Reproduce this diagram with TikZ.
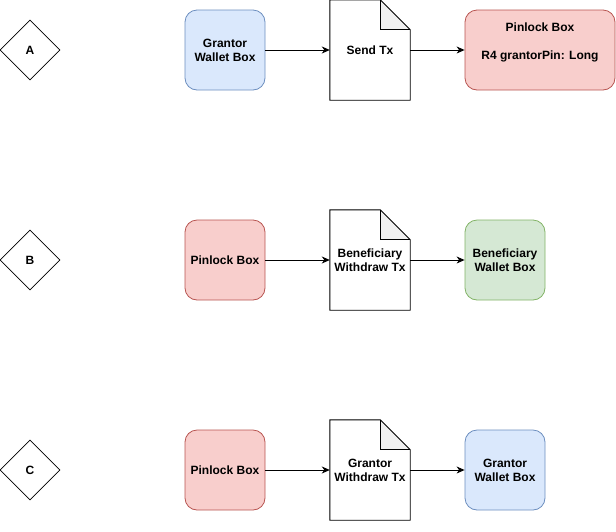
\documentclass[tikz,border=0pt]{standalone}
\usepackage{fontspec}
\setmainfont{Liberation Sans}
\usetikzlibrary{arrows.meta,shapes.geometric}
\definecolor{blueFill}{HTML}{DAE8FC}
\definecolor{blueLine}{HTML}{6C8EBF}
\definecolor{redFill}{HTML}{F8CECC}
\definecolor{redLine}{HTML}{B85450}
\definecolor{greenFill}{HTML}{D5E8D4}
\definecolor{greenLine}{HTML}{82B366}
\definecolor{foldFill}{HTML}{F0F0F0}
\tikzset{
  txt/.style={font=\bfseries\fontsize{12}{14}\selectfont, align=center, text=black},
  walletbox/.style={txt, rounded corners=12pt, minimum width=80pt, minimum height=80pt, inner sep=0pt, line width=0.8pt},
  bluebox/.style={walletbox, fill=blueFill, draw=blueLine},
  redbox/.style={walletbox, fill=redFill, draw=redLine},
  greenbox/.style={walletbox, fill=greenFill, draw=greenLine},
  decision/.style={txt, diamond, draw=black, line width=0.8pt, minimum width=60pt, minimum height=60pt, inner sep=0pt, aspect=1},
  docframe/.style={txt, minimum width=80pt, minimum height=100pt, inner sep=0pt},
  docline/.style={draw=black, line width=0.9pt, line join=miter},
  flow/.style={draw=black, line width=1pt, -{Stealth[length=8pt,width=7pt,inset=2.5pt]}},
}
% transaction document: sheet with a folded top-right corner
\newcommand{\txsheet}[1]{%
  \fill[white] (#1.south west) -- (#1.north west) -- ([xshift=-30pt]#1.north east)
    -- ([yshift=-30pt]#1.north east) -- (#1.south east) -- cycle;
  \fill[foldFill] ([xshift=-30pt]#1.north east) -- ([xshift=-30pt,yshift=-30pt]#1.north east)
    -- ([yshift=-30pt]#1.north east) -- cycle;
  \draw[docline] (#1.south west) -- (#1.north west) -- ([xshift=-30pt]#1.north east)
    -- ([yshift=-30pt]#1.north east) -- (#1.south east) -- cycle;
  \draw[docline] ([xshift=-30pt]#1.north east) -- ([xshift=-30pt,yshift=-30pt]#1.north east)
    -- ([yshift=-30pt]#1.north east);
}
\begin{document}
\begin{tikzpicture}[x=1pt,y=-1pt]
\useasboundingbox (0,0) rectangle (616,531);

% row A: grantor deposits into the pinlock
\node[decision] (dA) at (30,50) {A};
\node[bluebox] (gwA) at (225,50) {Grantor\\Wallet Box};
\node[docframe] (txA) at (370,50) {};
\txsheet{txA}
\node[txt] (txAlbl) at (txA.center) {Send Tx};
\node[redbox, minimum width=150pt] (plA) at (540,50) {};
\node[txt] (plAlbl) at ([yshift=8pt]plA.center) {Pinlock Box\\[14pt]R4 grantorPin: Long};
\draw[flow] (gwA.east) -- (txA.west);
\draw[flow] (txA.east) -- (plA.west);

% row B: beneficiary withdraws
\node[decision] (dB) at (30,260) {B};
\node[redbox] (plB) at (225,260) {Pinlock Box};
\node[docframe] (txB) at (370,260) {};
\txsheet{txB}
\node[txt] (txBlbl) at (txB.center) {Beneficiary\\Withdraw Tx};
\node[greenbox] (bwB) at (505,260) {Beneficiary\\Wallet Box};
\draw[flow] (plB.east) -- (txB.west);
\draw[flow] (txB.east) -- (bwB.west);

% row C: grantor withdraws
\node[decision] (dC) at (30,470) {C};
\node[redbox] (plC) at (225,470) {Pinlock Box};
\node[docframe] (txC) at (370,470) {};
\txsheet{txC}
\node[txt] (txClbl) at (txC.center) {Grantor\\Withdraw Tx};
\node[bluebox] (gwC) at (505,470) {Grantor\\Wallet Box};
\draw[flow] (plC.east) -- (txC.west);
\draw[flow] (txC.east) -- (gwC.west);
\end{tikzpicture}
\end{document}
